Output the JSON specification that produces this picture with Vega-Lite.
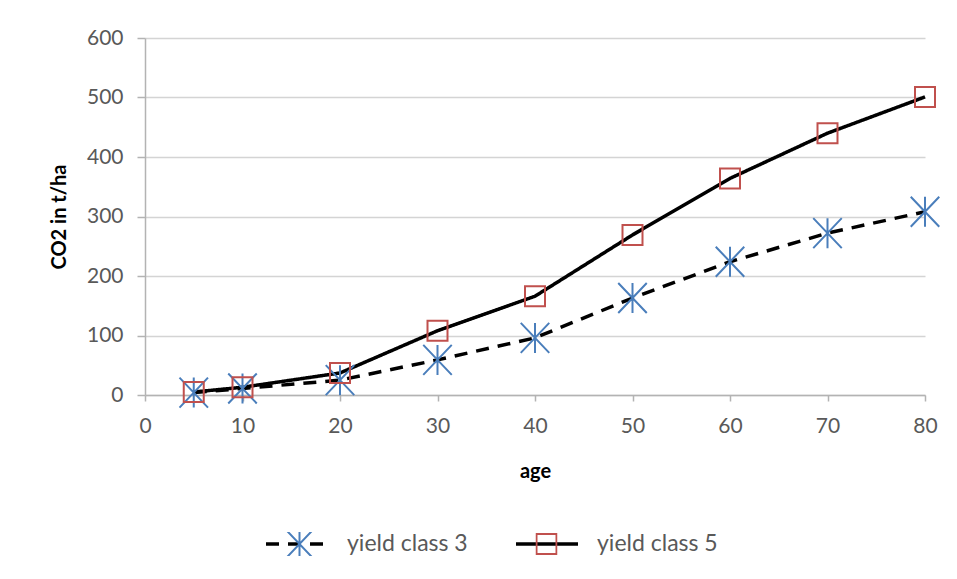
{
  "$schema": "https://vega.github.io/schema/vega-lite/v6.json",
  "width": 780,
  "height": 357,
  "autosize": {"type": "none"},
  "padding": {"left": 145, "top": 38, "right": 32, "bottom": 184},
  "background": "white",
  "config": {
    "view": {"stroke": null},
    "font": "Lato",
    "axis": {
      "labelFont": "Lato",
      "labelFontSize": 21,
      "labelColor": "#595959",
      "titleFont": "Lato",
      "titleFontSize": 20,
      "titleFontWeight": "bold",
      "titleColor": "#000000",
      "domainColor": "#b3b3b3",
      "domainWidth": 1.5,
      "tickColor": "#b3b3b3",
      "tickWidth": 1.5,
      "gridColor": "#d4d4d4",
      "gridWidth": 1.5
    }
  },
  "data": {
    "values": [
      {"age": 5, "co2": 4, "series": "yield class 3"},
      {"age": 10, "co2": 11, "series": "yield class 3"},
      {"age": 20, "co2": 25, "series": "yield class 3"},
      {"age": 30, "co2": 59, "series": "yield class 3"},
      {"age": 40, "co2": 96, "series": "yield class 3"},
      {"age": 50, "co2": 163, "series": "yield class 3"},
      {"age": 60, "co2": 224, "series": "yield class 3"},
      {"age": 70, "co2": 272, "series": "yield class 3"},
      {"age": 80, "co2": 308, "series": "yield class 3"},
      {"age": 5, "co2": 5, "series": "yield class 5"},
      {"age": 10, "co2": 13, "series": "yield class 5"},
      {"age": 20, "co2": 37, "series": "yield class 5"},
      {"age": 30, "co2": 108, "series": "yield class 5"},
      {"age": 40, "co2": 166, "series": "yield class 5"},
      {"age": 50, "co2": 269, "series": "yield class 5"},
      {"age": 60, "co2": 364, "series": "yield class 5"},
      {"age": 70, "co2": 440, "series": "yield class 5"},
      {"age": 80, "co2": 501, "series": "yield class 5"}
    ]
  },
  "encoding": {
    "x": {
      "field": "age",
      "type": "quantitative",
      "scale": {"domain": [0, 80], "nice": false, "zero": false},
      "axis": {"title": "age", "values": [0, 10, 20, 30, 40, 50, 60, 70, 80], "grid": false, "tickSize": 6, "labelPadding": 14, "titlePadding": 25, "labelFlush": false}
    },
    "y": {
      "field": "co2",
      "type": "quantitative",
      "scale": {"domain": [0, 600], "nice": false},
      "axis": {"title": "CO2 in t/ha", "values": [0, 100, 200, 300, 400, 500, 600], "grid": true, "tickSize": 8, "labelPadding": 14, "titlePadding": 17}
    }
  },
  "layer": [
    {
      "mark": {"type": "line", "color": "black", "strokeWidth": 3.5, "interpolate": "linear"},
      "encoding": {
        "strokeDash": {
          "field": "series",
          "type": "nominal",
          "scale": {"range": [[13, 9], [1, 0]]},
          "legend": {
            "title": null,
            "orient": "none",
            "legendX": 119,
            "legendY": 494,
            "direction": "horizontal",
            "symbolType": "stroke",
            "symbolSize": 3844,
            "symbolStrokeWidth": 3.5,
            "symbolStrokeColor": "black",
            "labelFont": "Lato",
            "labelFontSize": 23,
            "labelColor": "#595959",
            "labelOffset": 17,
            "labelLimit": 400,
            "columnPadding": 46,
            "clipHeight": 24,
            "padding": 0
          }
        }
      }
    },
    {
      "mark": {"type": "point", "filled": false, "strokeWidth": 2, "opacity": 1},
      "encoding": {
        "shape": {
          "field": "series",
          "type": "nominal",
          "scale": {"domain": ["yield class 3", "yield class 5"], "range": ["M0,-1L0,1M-0.95,-1L0.95,1M-0.95,1L0.95,-1", "square"]},
          "legend": {
            "title": null,
            "orient": "none",
            "legendX": 138.5,
            "legendY": 494,
            "direction": "horizontal",
            "symbolSize": 169,
            "symbolStrokeWidth": 2,
            "symbolFillColor": "transparent",
            "labelExpr": "''",
            "labelFontSize": 1,
            "labelOffset": 0,
            "columnPadding": 220,
            "clipHeight": 24,
            "padding": 0
          }
        },
        "color": {
          "field": "series",
          "type": "nominal",
          "scale": {"domain": ["yield class 3", "yield class 5"], "range": ["#4a7ebb", "#c0504d"]},
          "legend": {
            "title": null,
            "orient": "none",
            "legendX": 138.5,
            "legendY": 494,
            "direction": "horizontal",
            "symbolSize": 169,
            "symbolStrokeWidth": 2,
            "symbolFillColor": "transparent",
            "labelExpr": "''",
            "labelFontSize": 1,
            "labelOffset": 0,
            "columnPadding": 220,
            "clipHeight": 24,
            "padding": 0
          }
        },
        "size": {
          "field": "series",
          "type": "nominal",
          "scale": {"domain": ["yield class 3", "yield class 5"], "range": [900, 400]},
          "legend": null
        }
      }
    }
  ]
}
